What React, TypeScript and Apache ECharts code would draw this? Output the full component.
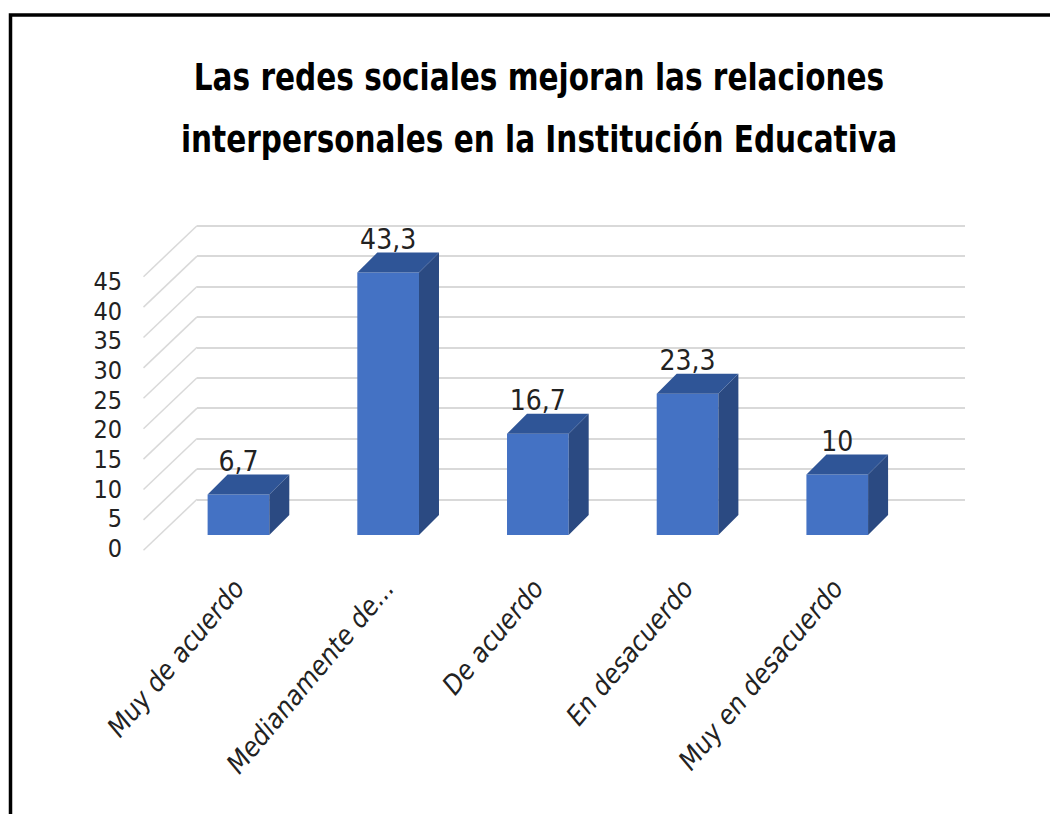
import React, { useEffect, useRef } from "react";
import * as echarts from "echarts";

const titleLines = [
  "Las redes sociales mejoran las relaciones",
  "interpersonales en la Institución Educativa",
];
const categories = [
  "Muy de acuerdo",
  "Medianamente de acuerdo",
  "De acuerdo",
  "En desacuerdo",
  "Muy en desacuerdo",
];
const values = [6.7, 43.3, 16.7, 23.3, 10];
const yTicks = [0, 5, 10, 15, 20, 25, 30, 35, 40, 45];

const NARROW = "'DejaVu Sans Condensed', 'Liberation Sans Narrow', 'DejaVu Sans', sans-serif";
const FRONT = "#4472C4";
const TOP = "#2F5597";
const SIDE = "#2B4A82";
const GRID_LINE = "#d9d9d9";
const DEPTH_X = 20;
const DEPTH_Y = -20;

export default function App() {
  const ref = useRef<HTMLDivElement>(null);
  useEffect(() => {
    if (!ref.current) return;
    const chart = echarts.init(ref.current, null, { renderer: "svg" });
    const fmt = (v: number) => String(v).replace(".", ",");
    chart.setOption({
      animation: false,
      graphic: [
        {
          type: "rect",
          shape: { x: 10.5, y: 15, width: 1200, height: 1000 },
          style: { fill: "none", stroke: "#000", lineWidth: 3.5 },
          z: 100,
        },
        ...titleLines.map((t, k) => ({
          type: "text",
          x: 539,
          y: 77 + k * 62,
          scaleX: 0.865,
          style: {
            text: t,
            fontFamily: NARROW,
            fontWeight: "bold",
            fontSize: 38,
            fill: "#000",
            align: "center",
            verticalAlign: "middle",
            textAlign: "center",
            textVerticalAlign: "middle",
          },
        })),
      ],
      grid: [
        // back wall
        { left: 197, right: 85, top: 225.7, bottom: 314.7 },
        // front plane of bars
        { left: 163.6, width: 748.5, top: 262.3, height: 272.7 },
        // side wall front edge (value labels)
        { left: 144, width: 10, top: 281.7, height: 266.6 },
      ],
      xAxis: [
        { gridIndex: 0, type: "value", min: 0, max: 1, show: false },
        {
          gridIndex: 1,
          type: "category",
          data: categories,
          axisLine: { show: false },
          axisTick: { show: false },
          axisLabel: {
            rotate: 50,
            margin: 48,
            interval: 0,
            fontFamily: NARROW,
            fontSize: 27,
            fontStyle: "italic",
            color: "#222",
            formatter: (s: string) => (s.length > 18 ? s.slice(0, 15) + "..." : s),
          },
        },
        { gridIndex: 2, type: "value", min: 0, max: 1, show: false },
      ],
      yAxis: [
        {
          gridIndex: 0,
          type: "value",
          min: 0,
          max: 45,
          interval: 5,
          axisLabel: { show: false },
          axisLine: { show: false },
          axisTick: { show: false },
          splitLine: { show: true, lineStyle: { color: GRID_LINE, width: 2 } },
        },
        { gridIndex: 1, type: "value", min: 0, max: 45, interval: 5, show: false },
        {
          gridIndex: 2,
          type: "value",
          min: 0,
          max: 45,
          interval: 5,
          axisLine: { show: false },
          axisTick: { show: false },
          splitLine: { show: false },
          axisLabel: {
            margin: 22,
            fontFamily: NARROW,
            fontSize: 25,
            color: "#222",
          },
        },
      ],
      series: [
        {
          type: "custom",
          name: "side wall",
          xAxisIndex: 0,
          yAxisIndex: 0,
          clip: false,
          silent: true,
          data: yTicks.map((t) => [0, t]),
          renderItem: (params: any, api: any) => {
            const p = api.coord([0, api.value(1)]);
            return {
              type: "line",
              shape: { x1: p[0], y1: p[1], x2: p[0] - 53.5, y2: p[1] + 51 },
              style: { stroke: GRID_LINE, lineWidth: 1.5 },
            };
          },
        },
        {
          type: "custom",
          name: "bars",
          xAxisIndex: 1,
          yAxisIndex: 1,
          clip: false,
          data: values.map((v, i) => [i, v]),
          renderItem: (params: any, api: any) => {
            const i = api.value(0);
            const v = api.value(1);
            const top = api.coord([i, v]);
            const bot = api.coord([i, 0]);
            const bw = api.size([1, 0])[0];
            const hw = bw * 0.206;
            const xl = top[0] - hw;
            const xr = top[0] + hw;
            const yt = top[1];
            const yb = bot[1];
            return {
              type: "group",
              children: [
                {
                  type: "polygon",
                  shape: { points: [[xl, yt], [xr, yt], [xr, yb], [xl, yb]] },
                  style: { fill: FRONT },
                },
                {
                  type: "polygon",
                  shape: {
                    points: [
                      [xr, yt],
                      [xr + DEPTH_X, yt + DEPTH_Y],
                      [xr + DEPTH_X, yb + DEPTH_Y],
                      [xr, yb],
                    ],
                  },
                  style: { fill: SIDE },
                },
                {
                  type: "polygon",
                  shape: {
                    points: [
                      [xl, yt],
                      [xl + DEPTH_X, yt + DEPTH_Y],
                      [xr + DEPTH_X, yt + DEPTH_Y],
                      [xr, yt],
                    ],
                  },
                  style: { fill: TOP },
                },
                {
                  type: "text",
                  x: top[0],
                  y: yt + DEPTH_Y + 1,
                  style: {
                    text: fmt(v),
                    fontFamily: NARROW,
                    fontSize: 28,
                    fill: "#222",
                    align: "center",
                    verticalAlign: "bottom",
                    textAlign: "center",
                    textVerticalAlign: "bottom",
                  },
                },
              ],
            };
          },
        },
      ],
    });
    return () => chart.dispose();
  }, []);
  return (
    <div
      ref={ref}
      style={{ position: "fixed", left: 0, top: 0, width: 1050, height: 814, background: "#fff" }}
    />
  );
}
